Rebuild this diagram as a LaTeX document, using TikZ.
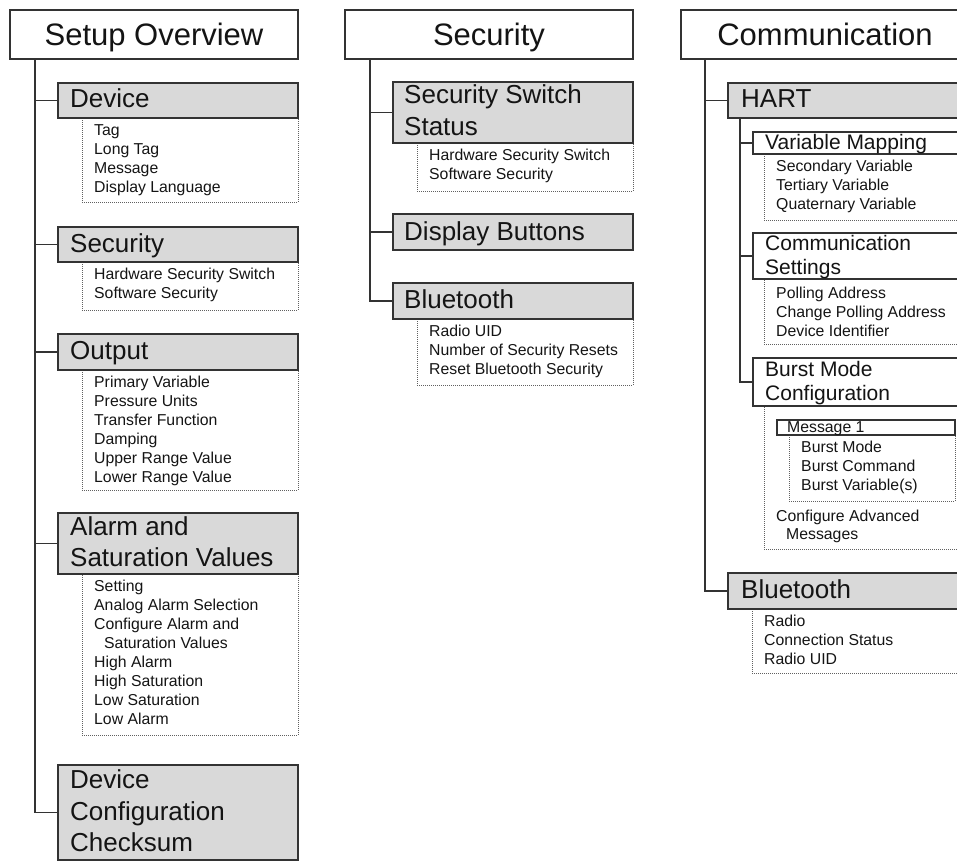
\documentclass[tikz,border=0pt]{standalone}
\usepackage{fontspec}
\setmainfont{Liberation Sans}
\definecolor{bd}{HTML}{333333}
\definecolor{hd}{HTML}{D9D9D9}
\definecolor{dt}{HTML}{606060}
\definecolor{tx}{HTML}{141414}
\newcommand\itemlist[4]{\foreach \t [count=\i] in {#4} \node[itm] (#1-\i) at (#2,{#3+19*(\i-1)}) {\t};}
\begin{document}
\begin{tikzpicture}[x=1pt,y=-1pt,
  ttl/.style={draw=bd,fill=white,line width=1.6,inner sep=0,outer sep=0,anchor=north west,minimum width=288,minimum height=49},
  hbox/.style={draw=bd,fill=hd,line width=1.6,inner sep=0,outer sep=0,anchor=north west},
  sbox/.style={draw=bd,fill=white,line width=1.6,inner sep=0,outer sep=0,anchor=north west},
  lst/.style={draw=dt,line width=1,dash pattern=on 1pt off 1pt,inner sep=0,outer sep=0,anchor=north west},
  tt/.style={font=\fontsize{31}{31}\selectfont,text=tx,anchor=base,inner sep=0},
  ht/.style={font=\fontsize{26}{26}\selectfont,text=tx,anchor=base west,inner sep=0},
  st/.style={font=\fontsize{21}{21}\selectfont,text=tx,anchor=base west,inner sep=0},
  itm/.style={font=\fontsize{15.8}{15.8}\selectfont,text=tx,anchor=base west,inner sep=0},
  ln/.style={draw=bd,line width=1.7}]
\useasboundingbox (0,0) rectangle (957,862);
\clip (0,0) rectangle (957,862);
% ---------------- Setup Overview ----------------
\node[ttl] (t1) at (10,10) {};
\node[tt] (t1t) at (154,45) {Setup Overview};
\node[lst,minimum width=216,minimum height=84] (devL) at (82,118) {};
\node[hbox,minimum width=240,minimum height=35] (dev) at (58,83) {};
\node[ht] (devt) at (70,107) {Device};
\itemlist{devI}{94}{135}{Tag,Long Tag,Message,Display Language}
\node[lst,minimum width=216,minimum height=48] (secL) at (82,262) {};
\node[hbox,minimum width=240,minimum height=35] (sec) at (58,227) {};
\node[ht] (sect) at (70,252) {Security};
\itemlist{secI}{94}{279}{Hardware Security Switch,Software Security}
\node[lst,minimum width=216,minimum height=120] (outL) at (82,370) {};
\node[hbox,minimum width=240,minimum height=36] (out) at (58,334) {};
\node[ht] (outt) at (70,359) {Output};
\itemlist{outI}{94}{387}{Primary Variable,Pressure Units,Transfer Function,Damping,Upper Range Value,Lower Range Value}
\node[lst,minimum width=216,minimum height=161] (almL) at (82,574) {};
\node[hbox,minimum width=240,minimum height=61] (alm) at (58,513) {};
\node[ht] (almt1) at (70,535) {Alarm and};
\node[ht] (almt2) at (70,566) {Saturation Values};
\itemlist{almI}{94}{591}{Setting,Analog Alarm Selection,Configure Alarm and,\hspace*{10pt}Saturation Values,High Alarm,High Saturation,Low Saturation,Low Alarm}
\node[hbox,minimum width=240,minimum height=95] (dcc) at (58,765) {};
\node[ht] (dcct1) at (70,788) {Device};
\node[ht] (dcct2) at (70,820) {Configuration};
\node[ht] (dcct3) at (70,851) {Checksum};
\foreach \b in {dev,sec,out,alm,dcc} \draw[ln] ([xshift=25]t1.south west) |- (\b.west);
% ---------------- Security ----------------
\node[ttl] (t2) at (345,10) {};
\node[tt] (t2t) at (489,45) {Security};
\node[lst,minimum width=216,minimum height=48] (sssL) at (417,143) {};
\node[hbox,minimum width=240,minimum height=61] (sss) at (393,82) {};
\node[ht] (ssst1) at (404,103) {Security Switch};
\node[ht] (ssst2) at (404,135) {Status};
\itemlist{sssI}{429}{160}{Hardware Security Switch,Software Security}
\node[hbox,minimum width=240,minimum height=36] (dbt) at (393,214) {};
\node[ht] (dbtt) at (404,240) {Display Buttons};
\node[lst,minimum width=216,minimum height=66] (bt2L) at (417,319) {};
\node[hbox,minimum width=240,minimum height=36] (bt2) at (393,283) {};
\node[ht] (bt2t) at (404,308) {Bluetooth};
\itemlist{bt2I}{429}{336}{Radio UID,Number of Security Resets,Reset Bluetooth Security}
\foreach \b in {sss,dbt,bt2} \draw[ln] ([xshift=25]t2.south west) |- (\b.west);
% ---------------- Communication ----------------
\node[ttl] (t3) at (681,10) {};
\node[tt] (t3t) at (825,45) {Communication};
\node[hbox,minimum width=241,minimum height=35] (hart) at (728,83) {};
\node[ht] (hartt) at (741,107) {HART};
\node[lst,minimum width=205,minimum height=66] (vmL) at (764,154) {};
\node[sbox,minimum width=216,minimum height=22] (vm) at (753,132) {};
\node[st] (vmt) at (765,149) {Variable Mapping};
\itemlist{vmI}{776}{171}{Secondary Variable,Tertiary Variable,Quaternary Variable}
\node[lst,minimum width=205,minimum height=65] (csL) at (764,279) {};
\node[sbox,minimum width=216,minimum height=46] (cs) at (753,233) {};
\node[st] (cst1) at (765,250) {Communication};
\node[st] (cst2) at (765,274) {Settings};
\itemlist{csI}{776}{298}{Polling Address,Change Polling Address,Device Identifier}
\node[lst,minimum width=205,minimum height=143] (bmL) at (764,406) {};
\node[sbox,minimum width=216,minimum height=48] (bm) at (753,358) {};
\node[st] (bmt1) at (765,376) {Burst Mode};
\node[st] (bmt2) at (765,400) {Configuration};
\node[lst,minimum width=166,minimum height=66] (m1L) at (789,435) {};
\node[sbox,minimum width=178,minimum height=15] (m1) at (777,420) {};
\node[itm] (m1t) at (787,432) {Message 1};
\itemlist{m1I}{801}{452}{Burst Mode,Burst Command,Burst Variable(s)}
\node[itm] (cam1) at (776,521) {Configure Advanced};
\node[itm] (cam2) at (786,539) {Messages};
\node[lst,minimum width=217,minimum height=64] (bt3L) at (752,609) {};
\node[hbox,minimum width=241,minimum height=36] (bt3) at (728,573) {};
\node[ht] (bt3t) at (741,598) {Bluetooth};
\itemlist{bt3I}{764}{626}{Radio,Connection Status,Radio UID}
\foreach \b in {hart,bt3} \draw[ln] ([xshift=24]t3.south west) |- (\b.west);
\foreach \b in {vm,cs,bm} \draw[ln] ([xshift=12]hart.south west) |- (\b.west);
\end{tikzpicture}
\end{document}
